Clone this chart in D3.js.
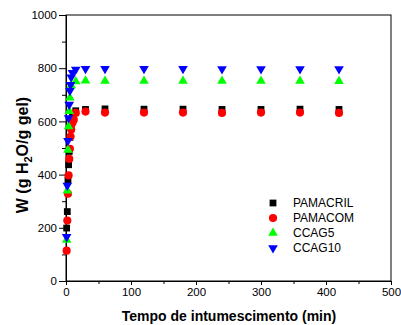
<!DOCTYPE html>
<html>
<head>
<meta charset="utf-8">
<script src="https://cdn.jsdelivr.net/npm/d3@7"></script>
<style>
  html, body { margin: 0; padding: 0; background: #fff; }
  svg { display: block; font-family: "Liberation Sans", Arial, sans-serif; }
</style>
</head>
<body>
<svg id="chart" width="401" height="325"></svg>
<script>
// swelling kinetics — W vs time, four gels

const seriesNames = ['PAMACRIL', 'PAMACOM', 'CCAG5', 'CCAG10']

const timePamacril = [1, 2, 3, 4, 5, 6, 8, 10, 15, 30, 60, 120, 180, 240, 300, 360, 420]
const wPamacril    = [199, 261, 380, 437, 487, 540, 590, 620, 640, 645, 647, 646, 646, 645, 645, 646, 645]

const timePamacom  = [1, 2, 3, 4, 5, 6, 7, 8, 10, 12, 15, 30, 60, 120, 180, 240, 300, 360, 420]
const wPamacom     = [114, 227, 328, 397, 459, 497, 543, 570, 595, 606, 632, 637, 633, 633, 633, 632, 633, 633, 632]

const timeCcag5    = [1, 2, 3, 4, 5, 6, 8, 15, 30, 60, 120, 180, 240, 300, 360, 420]
const wCcag5       = [154, 339, 493, 581, 638, 689, 735, 750, 753, 752, 752, 752, 752, 752, 752, 751]

const timeCcag10   = [1, 2, 3, 4, 5, 6, 7, 8, 10, 15, 30, 60, 120, 180, 240, 300, 360, 420]
const wCcag10      = [166, 359, 527, 613, 663, 715, 738, 766, 783, 795, 798, 798, 798, 798, 797, 797, 797, 797]

const xTicks = [0, 100, 200, 300, 400, 500]
const yTicks = [0, 200, 400, 600, 800, 1000]

const svg = d3.select('#chart')

const mLeft = 66, mRight = 391, mTop = 15, mBottom = 281

const x = d3.scaleLinear().domain([0, 500]).range([mLeft, mRight])
const y = d3.scaleLinear().domain([0, 1000]).range([mBottom, mTop])

// frame
svg.append('rect')
  .attr('x', mLeft).attr('y', mTop)
  .attr('width', mRight - mLeft).attr('height', mBottom - mTop)
  .attr('fill', 'none').attr('stroke', '#000').attr('stroke-width', 1)

// x axis — major + minor ticks outward
const xAxis = svg.append('g')
  .attr('transform', `translate(0,${mBottom})`)
  .call(d3.axisBottom(x).tickValues(xTicks).tickSize(4).tickPadding(3).tickFormat(d3.format('d')))
xAxis.append('g').call(
  d3.axisBottom(x).tickValues(d3.range(50, 500, 100)).tickSize(3).tickFormat(''))

const yAxis = svg.append('g')
  .attr('transform', `translate(${mLeft},0)`)
  .call(d3.axisLeft(y).tickValues(yTicks).tickSize(7).tickPadding(2).tickFormat(d3.format('d')))
yAxis.append('g').call(
  d3.axisLeft(y).tickValues(d3.range(100, 1000, 200)).tickSize(4).tickFormat(''))

svg.selectAll('.domain').attr('stroke', '#000')
svg.selectAll('.tick line').attr('stroke', '#000')
svg.selectAll('.tick text')
  .attr('font-size', '11.5px')
  .attr('font-family', '"Liberation Sans", Arial, sans-serif')
  .attr('fill', '#000')

// axis titles
svg.append('text')
  .attr('x', 229).attr('y', 321)
  .attr('text-anchor', 'middle')
  .attr('font-size', '14px').attr('font-weight', 'bold')
  .text('Tempo de intumescimento (min)')

const yTitle = svg.append('text')
  .attr('transform', 'translate(28,155) rotate(-90)')
  .attr('text-anchor', 'middle')
  .attr('font-size', '16px').attr('font-weight', 'bold')
yTitle.append('tspan').text('W (g H')
yTitle.append('tspan').attr('font-size', '11px').attr('dy', 4).text('2')
yTitle.append('tspan').attr('dy', -4).text('O/g gel)')

// marker shapes
const shapes = {
  square:  d3.symbol().type(d3.symbolSquare).size(46),
  circle:  d3.symbol().type(d3.symbolCircle).size(52),
  triUp:   d3.symbol().type(d3.symbolTriangle).size(40),
  triDown: d3.symbol().type(d3.symbolTriangle).size(40)
}

const series = [
  { name: seriesNames[0], t: timePamacril, w: wPamacril, shape: 'square',  color: '#000000' },
  { name: seriesNames[1], t: timePamacom,  w: wPamacom,  shape: 'circle',  color: '#ff0000' },
  { name: seriesNames[2], t: timeCcag5,    w: wCcag5,    shape: 'triUp',   color: '#00ff00' },
  { name: seriesNames[3], t: timeCcag10,   w: wCcag10,   shape: 'triDown', color: '#0000ff' }
]

function marker(sel, s, px, py) {
  sel.append('path')
    .attr('d', shapes[s.shape]())
    .attr('fill', s.color)
    .attr('transform', `translate(${px},${py})` + (s.shape === 'triDown' ? ' rotate(180)' : ''))
}

series.forEach((s) => {
  const g = svg.append('g')
  s.t.forEach((t, i) => marker(g, s, x(t), y(s.w[i])))
})

// legend
const legend = svg.append('g')
series.forEach((s, i) => {
  const ly = 203 + i * 15
  marker(legend, s, 273, ly)
  legend.append('text')
    .attr('x', 293).attr('y', ly + 4)
    .attr('font-size', '12px')
    .text(s.name)
})
</script>
</body>
</html>
